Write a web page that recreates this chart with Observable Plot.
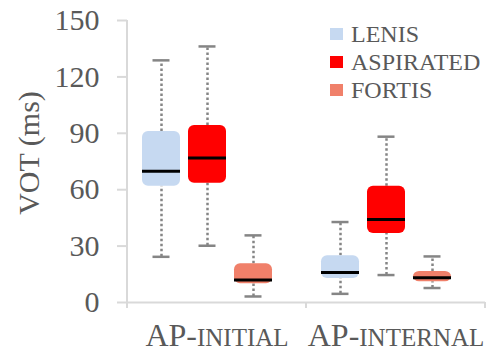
<!DOCTYPE html>
<html>
<head>
<meta charset="utf-8">
<script src="https://cdn.jsdelivr.net/npm/d3@7"></script>
<script src="https://cdn.jsdelivr.net/npm/@observablehq/plot@0.6"></script>
<style>
  html, body { margin: 0; padding: 0; background: #ffffff; }
  #chart svg { display: block; }
</style>
</head>
<body>
<div id="chart"></div>
<script>
// ---- data ----
const categories = ["AP-INITIAL", "AP-INTERNAL"];
const series = ["LENIS", "ASPIRATED", "FORTIS"];
const seriesColors = ["#c6d9f1", "#ff0000", "#f0806a"];
// values per category, in series order [LENIS, ASPIRATED, FORTIS]
const minVals    = [[24.3, 30.2, 3.2], [4.6, 14.6, 7.7]];
const q1Vals     = [[61.8, 63.4, 10.0], [12.8, 36.7, 11.0]];
const medianVals = [[69.8, 76.9, 12.0], [16.0, 44.2, 13.2]];
const q3Vals     = [[91.0, 94.1, 20.6], [24.9, 61.8, 16.5]];
const maxVals    = [[128.8, 136.2, 35.7], [42.8, 88.2, 24.5]];
const yTicks = [0, 30, 60, 90, 120, 150];
const yLabel = "VOT (ms)";

const data = categories.flatMap((cat, c) => series.map((s, i) => ({
  cat, series: s,
  min: minVals[c][i], q1: q1Vals[c][i], median: medianVals[c][i],
  q3: q3Vals[c][i], max: maxVals[c][i]
})));

const textColor = "#595959";
const axisColor = "#d9d9d9";
const whiskerColor = "#858585";
const serif = "'Liberation Serif', 'Times New Roman', serif";

const chart = Plot.plot({
  width: 488,
  height: 352,
  marginTop: 20,
  marginBottom: 50,
  marginLeft: 127,
  marginRight: 3,
  style: { fontFamily: serif, background: "#ffffff", color: textColor },
  fx: { domain: categories, padding: 0, label: null, axis: null },
  x: { domain: series, paddingInner: 0.17, paddingOuter: 0.49, align: 0.3, axis: null },
  y: { domain: [0, 150], label: null, axis: null },
  color: { domain: series, range: seriesColors },
  marks: [
    Plot.axisY(yTicks, { anchor: "left", tickSize: 10, tickPadding: 18, fontSize: 30, stroke: axisColor, strokeWidth: 2, fill: textColor, label: null }),
    Plot.axisFx({ anchor: "bottom", tickSize: 0, tickPadding: 20.5, fontSize: 32, fill: textColor, label: null }),
    Plot.ruleY([0], { stroke: axisColor, strokeWidth: 2 }),
    Plot.ruleX(data, { fx: "cat", x: "series", y1: "q3", y2: "max", stroke: whiskerColor, strokeWidth: 2.5, strokeDasharray: "2.5,2.5" }),
    Plot.ruleX(data, { fx: "cat", x: "series", y1: "min", y2: "q1", stroke: whiskerColor, strokeWidth: 2.5, strokeDasharray: "2.5,2.5" }),
    Plot.tickY(data, { fx: "cat", x: "series", y: "max", stroke: whiskerColor, strokeWidth: 2.5, insetLeft: 10.5, insetRight: 10.5 }),
    Plot.tickY(data, { fx: "cat", x: "series", y: "min", stroke: whiskerColor, strokeWidth: 2.5, insetLeft: 10.5, insetRight: 10.5 }),
    Plot.barY(data, { fx: "cat", x: "series", y1: "q1", y2: "q3", fill: "series", rx: 6 }),
    Plot.tickY(data, { fx: "cat", x: "series", y: "median", stroke: "#000000", strokeWidth: 3 })
  ]
});

document.getElementById("chart").appendChild(chart);

// ---- small caps for category labels ----
const svg = d3.select(chart);
svg.selectAll('g[aria-label="fx-axis tick label"] text').each(function () {
  const t = d3.select(this);
  const s = t.text();
  const k = s.indexOf("-") + 1;
  t.text(null);
  t.append("tspan").text(s.slice(0, k));
  t.append("tspan").attr("font-size", 25).text(s.slice(k));
});

// ---- axis lines and category boundary ticks from the library scales ----
const fx = chart.scale("fx");
const y = chart.scale("y");
const color = chart.scale("color");
const y0 = y.apply(0);
const edges = categories.map(c => fx.apply(c));
edges.push(fx.apply(categories[categories.length - 1]) + fx.bandwidth);
const ax = svg.append("g").attr("stroke", axisColor).attr("stroke-width", 2);
ax.append("line").attr("x1", edges[0]).attr("x2", edges[0]).attr("y1", y.apply(150)).attr("y2", y0 + 6);
edges.slice(1).forEach(e => ax.append("line").attr("x1", e).attr("x2", e).attr("y1", y0).attr("y2", y0 + 6));

// ---- y axis title ----
svg.append("text")
  .attr("transform", "translate(39,153) rotate(-90)")
  .attr("text-anchor", "middle")
  .attr("font-family", serif)
  .attr("font-size", 30)
  .attr("fill", textColor)
  .text(yLabel);

// ---- legend ----
const lg = svg.append("g").attr("font-size", 24).attr("font-family", serif).attr("fill", textColor).attr("text-anchor", "start");
series.forEach((s, i) => {
  lg.append("rect").attr("x", 330).attr("y", 28 + 28 * i).attr("width", 13).attr("height", 12).attr("fill", color.apply(s));
  lg.append("text").attr("x", 351).attr("y", 42.3 + 28 * i).text(s);
});
</script>
</body>
</html>
